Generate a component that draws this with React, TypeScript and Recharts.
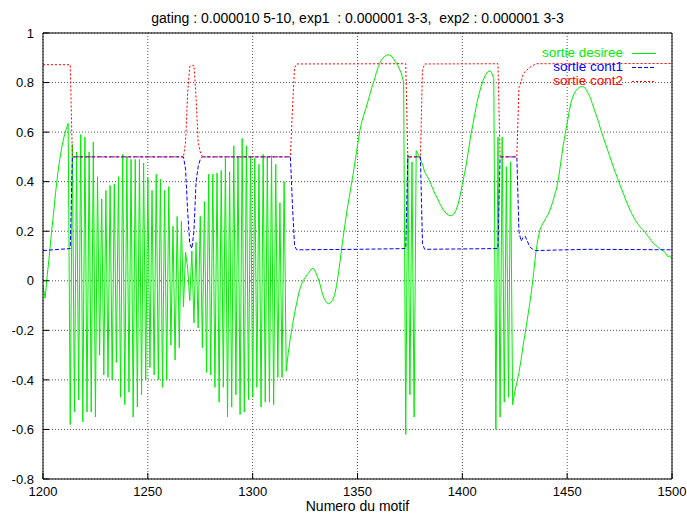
import { LineChart, Line, XAxis, YAxis, CartesianGrid, Legend } from 'recharts'

const FONT = '"Liberation Sans", Arial, Helvetica, sans-serif'

const TITLE = 'gating : 0.000010 5-10, exp1\u00a0 : 0.000001 3-3,\u00a0 exp2 : 0.000001 3-3'

const FIRST_MOTIF = 1200

// sortie desiree, one value per motif from 1200 to 1500
const desiree = [
  -0.02, -0.07, 0.02, 0.1, 0.19, 0.27, 0.355, 0.43, 0.49, 0.54,
  0.58, 0.61, 0.635, -0.58, 0.55, -0.53, 0.52, -0.48, 0.59, -0.57,
  0.58, -0.53, 0.52, -0.53, 0.56, -0.55, 0.42, -0.3, 0.33, -0.38,
  0.365, -0.39, 0.385, -0.4, 0.39, -0.33, 0.42, -0.47, 0.51, -0.5,
  0.5, -0.45, 0.49, -0.55, 0.49, -0.51, 0.49, -0.46, 0.475, -0.4,
  0.415, -0.35, 0.365, -0.38, 0.43, -0.4, 0.41, -0.43, 0.365, -0.4,
  0.38, -0.26, 0.22, -0.32, 0.26, -0.27, 0.24, -0.105, 0.115, 0.05,
  -0.08, 0.12, -0.17, 0.155, -0.19, 0.26, -0.27, 0.32, -0.37, 0.43,
  -0.38, 0.43, -0.43, 0.435, -0.49, 0.445, -0.43, 0.495, -0.55, 0.44,
  -0.51, 0.545, -0.46, 0.5, -0.54, 0.575, -0.53, 0.545, -0.48, 0.5,
  -0.47, 0.495, -0.43, 0.47, -0.51, 0.51, -0.49, 0.5, -0.49, 0.505,
  -0.5, 0.47, -0.39, 0.315, -0.39, 0.4, -0.365, -0.29, -0.23, -0.18,
  -0.13, -0.09, -0.05, -0.02, 0.0, 0.012, 0.025, 0.035, 0.048, 0.05,
  0.035, 0.015, -0.01, -0.045, -0.07, -0.085, -0.093, -0.09, -0.08, -0.06,
  -0.02, 0.035, 0.1, 0.165, 0.225, 0.285, 0.335, 0.385, 0.435, 0.49,
  0.545, 0.6, 0.64, 0.67, 0.695, 0.725, 0.755, 0.785, 0.81, 0.84,
  0.865, 0.885, 0.898, 0.906, 0.911, 0.912, 0.908, 0.898, 0.885, 0.872,
  0.855, 0.835, 0.8, -0.62, 0.51, -0.46, 0.48, -0.55, 0.525, 0.51,
  0.49, 0.47, 0.44, 0.425, 0.41, 0.39, 0.37, 0.35, 0.335, 0.315,
  0.3, 0.285, 0.275, 0.267, 0.263, 0.263, 0.27, 0.285, 0.31, 0.345,
  0.39, 0.43, 0.475, 0.53, 0.585, 0.63, 0.675, 0.72, 0.755, 0.785,
  0.81, 0.83, 0.843, 0.848, 0.84, 0.815, -0.6, 0.58, -0.55, 0.58,
  -0.49, 0.46, -0.47, 0.48, -0.5, -0.45, -0.41, -0.37, -0.32, -0.26,
  -0.21, -0.155, -0.1, -0.04, 0.03, 0.11, 0.165, 0.205, 0.225, 0.24,
  0.255, 0.27, 0.29, 0.315, 0.345, 0.375, 0.42, 0.48, 0.54, 0.59,
  0.635, 0.685, 0.725, 0.75, 0.765, 0.775, 0.782, 0.784, 0.782, 0.772,
  0.757, 0.74, 0.715, 0.69, 0.665, 0.64, 0.61, 0.585, 0.56, 0.535,
  0.51, 0.485, 0.46, 0.437, 0.414, 0.39, 0.37, 0.348, 0.325, 0.305,
  0.285, 0.268, 0.252, 0.238, 0.226, 0.215, 0.207, 0.198, 0.186, 0.175,
  0.163, 0.152, 0.145, 0.138, 0.13, 0.125, 0.12, 0.11, 0.098, 0.1,
  0.09,
]

// sortie cont1 (breakpoints)
const cont1X = [
  1200, 1213, 1214, 1267, 1268, 1269, 1270, 1271, 1272, 1273, 1274, 1275, 1276,
  1318, 1319, 1320, 1321, 1350, 1373, 1374, 1380, 1381, 1382, 1417, 1418, 1426,
  1427, 1428, 1429, 1430, 1431, 1432, 1433, 1435, 1460, 1500,
]
const cont1Y = [
  0.122, 0.13, 0.5, 0.5, 0.45, 0.28, 0.15, 0.13, 0.2, 0.4, 0.46, 0.49, 0.5,
  0.5, 0.3, 0.14, 0.125, 0.127, 0.13, 0.5, 0.5, 0.15, 0.127, 0.13, 0.5, 0.5,
  0.2, 0.16, 0.175, 0.18, 0.16, 0.14, 0.13, 0.122, 0.127, 0.125,
]

// sortie cont2 (breakpoints)
const cont2X = [
  1200, 1213, 1214, 1267, 1268, 1269, 1270, 1272, 1273, 1274, 1275, 1276,
  1318, 1319, 1320, 1321, 1373, 1374, 1380, 1381, 1382, 1417, 1418, 1426,
  1427, 1428, 1429, 1430, 1432, 1435, 1500,
]
const cont2Y = [
  0.872, 0.872, 0.5, 0.5, 0.56, 0.76, 0.865, 0.87, 0.74, 0.56, 0.52, 0.5,
  0.5, 0.7, 0.86, 0.875, 0.876, 0.5, 0.5, 0.85, 0.875, 0.876, 0.5, 0.5,
  0.78, 0.8, 0.835, 0.845, 0.86, 0.876, 0.877,
]

const xTicks = [1200, 1250, 1300, 1350, 1400, 1450, 1500]
const yTicks = [-0.8, -0.6, -0.4, -0.2, 0, 0.2, 0.4, 0.6, 0.8, 1]

const legendItems = [
  { name: 'sortie desiree', color: '#00ee00', dash: undefined },
  { name: 'sortie cont1', color: '#0000ff', dash: '4 2' },
  { name: 'sortie cont2', color: '#ff0000', dash: '2 2' },
]

const desireeData = desiree.map((y, i) => ({ x: FIRST_MOTIF + i, y }))
const cont1Data = cont1X.map((x, i) => ({ x, y: cont1Y[i] }))
const cont2Data = cont2X.map((x, i) => ({ x, y: cont2Y[i] }))

function GnuLegend() {
  return (
    <div style={{ fontFamily: FONT, fontSize: 13.5, lineHeight: '14px' }}>
      {legendItems.map((it) => (
        <div
          key={it.name}
          style={{ display: 'flex', justifyContent: 'flex-end', alignItems: 'center', height: 14 }}
        >
          <span style={{ color: it.color, whiteSpace: 'nowrap' }}>{it.name}</span>
          <svg width={34} height={14} style={{ display: 'block' }}>
            <line x1={9} x2={33} y1={7.5} y2={7.5} stroke={it.color} strokeDasharray={it.dash} />
          </svg>
        </div>
      ))}
    </div>
  )
}

const tickStyle = { fill: '#000', fontSize: 13, fontFamily: FONT }

export default function App() {
  return (
    <div style={{ position: 'absolute', left: 0, top: 0, width: 687, height: 513, background: '#fff' }}>
      <div
        style={{
          position: 'absolute',
          left: 0,
          top: 11,
          width: 715,
          textAlign: 'center',
          fontFamily: FONT,
          fontSize: 14,
          lineHeight: '14px',
          whiteSpace: 'pre',
          color: '#000',
        }}
      >
        {TITLE}
      </div>
      <LineChart width={687} height={513} margin={{ top: 32, right: 14, bottom: 0, left: 0 }}>
        <CartesianGrid stroke="#555" strokeDasharray="1 2" />
        <XAxis
          dataKey="x"
          type="number"
          domain={[1200, 1500]}
          ticks={xTicks}
          interval={0}
          allowDataOverflow
          height={34}
          tickSize={-6}
          tickMargin={14}
          tick={tickStyle}
          tickLine={{ stroke: '#000' }}
          axisLine={{ stroke: '#000' }}
          label={{
            value: 'Numero du motif',
            position: 'insideBottom',
            offset: 2,
            fill: '#000',
            fontSize: 14,
            fontFamily: FONT,
          }}
        />
        <XAxis
          xAxisId="top"
          orientation="top"
          dataKey="x"
          type="number"
          domain={[1200, 1500]}
          ticks={xTicks}
          interval={0}
          allowDataOverflow
          height={1}
          tickSize={-6}
          tick={false}
          tickLine={{ stroke: '#000' }}
          axisLine={{ stroke: '#000' }}
        />
        <YAxis
          type="number"
          domain={[-0.8, 1]}
          ticks={yTicks}
          interval={0}
          allowDataOverflow
          width={43}
          tickSize={-6}
          tickMargin={15}
          tick={tickStyle}
          tickLine={{ stroke: '#000' }}
          axisLine={{ stroke: '#000' }}
        />
        <YAxis
          yAxisId="right"
          orientation="right"
          type="number"
          domain={[-0.8, 1]}
          ticks={yTicks}
          interval={0}
          allowDataOverflow
          width={1}
          tickSize={-6}
          tick={false}
          tickLine={{ stroke: '#000' }}
          axisLine={{ stroke: '#000' }}
        />
        <Line
          data={desireeData}
          dataKey="y"
          name="sortie desiree"
          stroke="#00ee00"
          strokeWidth={1}
          dot={false}
          activeDot={false}
          isAnimationActive={false}
        />
        <Line
          data={cont1Data}
          dataKey="y"
          name="sortie cont1"
          stroke="#0000ff"
          strokeWidth={1}
          strokeDasharray="4 2"
          dot={false}
          activeDot={false}
          isAnimationActive={false}
        />
        <Line
          data={cont2Data}
          dataKey="y"
          name="sortie cont2"
          stroke="#ff0000"
          strokeWidth={1}
          strokeDasharray="2 2"
          dot={false}
          activeDot={false}
          isAnimationActive={false}
        />
        <Legend
          layout="horizontal"
          verticalAlign="middle"
          align="center"
          content={<GnuLegend />}
          wrapperStyle={{ left: 500, top: 46, width: 157 }}
        />
      </LineChart>
    </div>
  )
}
